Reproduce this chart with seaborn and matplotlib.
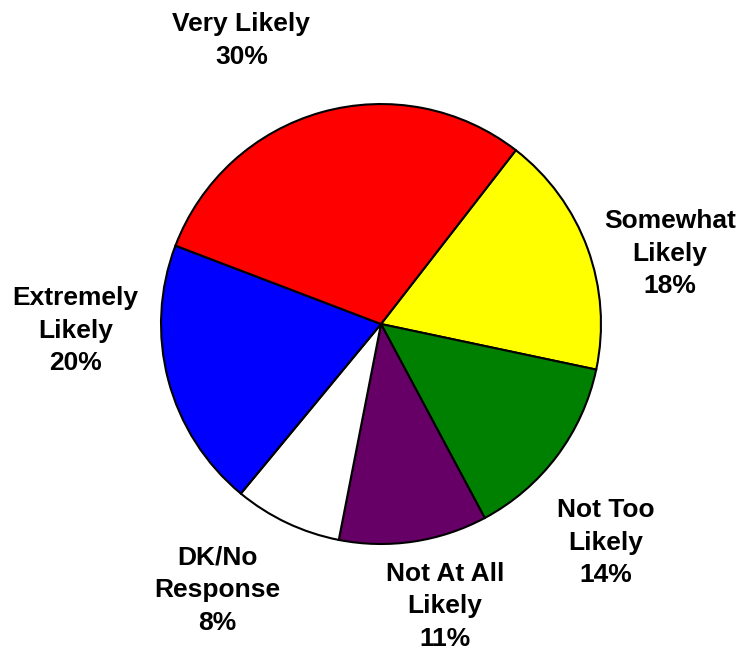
import matplotlib
matplotlib.use("Agg")
import matplotlib.pyplot as plt
import seaborn as sns
import numpy as np

sns.set_theme(style="white")
plt.rcParams["font.family"] = ["Liberation Sans", "DejaVu Sans"]

# Survey responses, listed clockwise starting after "Very Likely"
categories = ["Somewhat\nLikely", "Not Too\nLikely", "Not At All\nLikely",
              "DK/No\nResponse", "Extremely\nLikely", "Very Likely"]
values = [18, 14, 11, 8, 20, 30]
colors = ["#FFFF00", "#008000", "#660066", "#FFFFFF", "#0000FF", "#FF0000"]

# label anchor points (in pie-radius units)
label_pos = [(1.314, 0.32), (1.02, -0.995), (0.29, -1.283),
             (-0.745, -1.21), (-1.39, -0.03), (-0.635, 1.29)]

fig = plt.figure(figsize=(7.40, 6.52), dpi=100)
ax = fig.add_axes([0, 0, 1, 1])

ax.pie(values, colors=colors, startangle=52.2, counterclock=False,
       radius=1.0, center=(0, 0),
       wedgeprops=dict(edgecolor="black", linewidth=1.5))

for cat, val, (x, y) in zip(categories, values, label_pos):
    ax.text(x, y, f"{cat}\n{val}%", ha="center", va="center",
            fontsize=19, fontweight="bold", color="black",
            linespacing=1.45)

ax.set_xlim(-1.732, 1.632)
ax.set_ylim(-1.491, 1.473)
ax.set_aspect("equal")
ax.axis("off")

fig.savefig("out.png", dpi=100, facecolor="white")
